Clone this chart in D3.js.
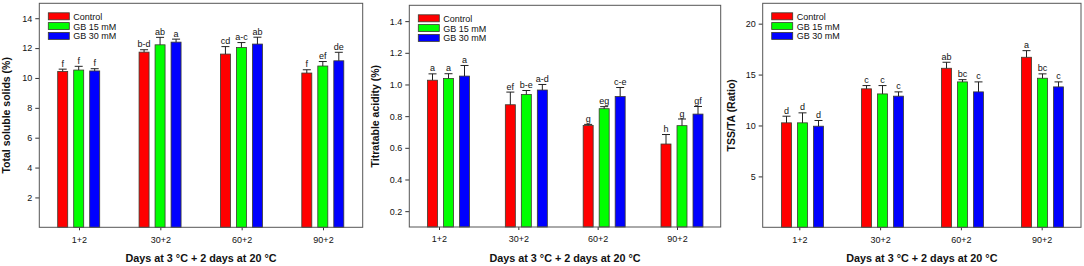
<!DOCTYPE html>
<html lang="en">
<head>
    <meta charset="UTF-8">
    <title>Fruit quality bars</title>
    <style>
        body { margin: 0; background: #fff; }
        svg { display: block; font-family: "Liberation Sans", Arial, sans-serif; }
    </style>
</head>
<body>
<script src="https://d3js.org/d3.v7.min.js"></script>
<script>
    var days = ["1+2", "30+2", "60+2", "90+2"];
    var treatments = ["Control", "GB 15 mM", "GB 30 mM"];
    var colors = ["#ff0000", "#00ff00", "#0000ff"];

    // total soluble solids (%), one array per treatment, plus the error bars
    var tssControl = [10.44, 11.73, 11.6, 10.33];
    var tssGB15 = [10.53, 12.22, 12.04, 10.8];
    var tssGB30 = [10.47, 12.4, 12.27, 11.15];
    var tssErrControl = [0.15, 0.16, 0.5, 0.22];
    var tssErrGB15 = [0.25, 0.5, 0.33, 0.3];
    var tssErrGB30 = [0.15, 0.2, 0.46, 0.57];
    var tssLetters = [["f", "b-d", "cd", "f"], ["f", "ab", "a-c", "ef"], ["f", "a", "ab", "de"]];
    var tssTicks = [2, 4, 6, 8, 10, 12, 14];

    // titratable acidity (%)
    var taControl = [1.027, 0.872, 0.741, 0.624];
    var taGB15 = [1.038, 0.937, 0.847, 0.74];
    var taGB30 = [1.053, 0.965, 0.924, 0.813];
    var taErrControl = [0.04, 0.08, 0.007, 0.06];
    var taErrGB15 = [0.03, 0.025, 0.013, 0.042];
    var taErrGB30 = [0.067, 0.035, 0.057, 0.048];
    var taLetters = [["a", "ef", "g", "h"], ["a", "b-e", "eg", "g"], ["a", "a-d", "c-e", "gf"]];
    var taTicks = [0.2, 0.4, 0.6, 0.8, 1.0, 1.2, 1.4];

    // TSS/TA ratio
    var ratioControl = [10.26, 13.6, 15.62, 16.7];
    var ratioGB15 = [10.26, 13.1, 14.28, 14.64];
    var ratioGB30 = [9.93, 12.88, 13.3, 13.79];
    var ratioErrControl = [0.65, 0.32, 0.59, 0.65];
    var ratioErrGB15 = [0.98, 0.82, 0.22, 0.43];
    var ratioErrGB30 = [0.56, 0.42, 0.98, 0.49];
    var ratioLetters = [["d", "c", "ab", "a"], ["d", "c", "bc", "bc"], ["d", "c", "c", "c"]];
    var ratioTicks = [5, 10, 15, 20];

    var xTitle = "Days at 3 \u00b0C + 2 days at 20 \u00b0C";

    var width = 1084, height = 266;

    var panels = [
        {
            values: [tssControl, tssGB15, tssGB30],
            errors: [tssErrControl, tssErrGB15, tssErrGB30],
            letters: tssLetters, ticks: tssTicks, fmt: d3.format("d"),
            domain: [0, 15], title: "Total soluble solids (%)", titleX: 6,
            left: 39.3, right: 362.7, top: 3.3, bottom: 227.3,
            bars: [78.7, 322.8], labels: [79, 323]
        },
        {
            values: [taControl, taGB15, taGB30],
            errors: [taErrControl, taErrGB15, taErrGB30],
            letters: taLetters, ticks: taTicks, fmt: d3.format(".1f"),
            domain: [0.1, 1.5], title: "Titratable acidity (%)", titleX: 375,
            left: 409.3, right: 720.7, top: 5.3, bottom: 227,
            bars: [448.5, 682], labels: [439, 677]
        },
        {
            values: [ratioControl, ratioGB15, ratioGB30],
            errors: [ratioErrControl, ratioErrGB15, ratioErrGB30],
            letters: ratioLetters, ticks: ratioTicks, fmt: d3.format("d"),
            domain: [0, 22], title: "TSS/TA (Ratio)", titleX: 731.5,
            left: 762.7, right: 1081, top: 3.3, bottom: 227.3,
            bars: [802.5, 1042.5], labels: [799.3, 1041.7]
        }
    ];

    var svg = d3.select("body")
        .append("svg")
        .attr("width", width)
        .attr("height", height);

    var barW = 10, barStep = 16;

    panels.forEach(function (p) {
        var g = svg.append("g");
        var y = d3.scaleLinear().domain(p.domain).range([p.bottom, p.top]);
        var xBar = d3.scalePoint().domain(days).range(p.bars);
        var xLab = d3.scalePoint().domain(days).range(p.labels);
        var inner = d3.scaleLinear().domain([0, 2]).range([-barStep, barStep]);

        // y axis, ticks pointing out of the frame
        var yAxis = g.append("g")
            .attr("transform", "translate(" + p.left + ",0)")
            .call(d3.axisLeft(y).tickValues(p.ticks).tickFormat(p.fmt).tickSize(4).tickPadding(3));
        yAxis.select(".domain").remove();
        yAxis.selectAll("line").attr("stroke", "#333");
        yAxis.selectAll("text").attr("font-size", 9).attr("fill", "#111")
            .attr("font-family", "Liberation Sans, Arial, sans-serif");

        var xAxis = g.append("g")
            .attr("transform", "translate(0," + p.bottom + ")")
            .call(d3.axisBottom(xLab).tickSize(3).tickPadding(6));
        xAxis.select(".domain").remove();
        xAxis.selectAll("line").attr("stroke", "#333");
        xAxis.selectAll("text").attr("font-size", 9).attr("fill", "#111")
            .attr("font-family", "Liberation Sans, Arial, sans-serif");

        // bars, error bars and letters
        p.values.forEach(function (series, s) {
            var sg = g.append("g");
            sg.selectAll("rect")
                .data(series)
                .enter()
                .append("rect")
                .attr("x", function (d, i) { return xBar(days[i]) + inner(s) - barW / 2; })
                .attr("y", function (d) { return y(d); })
                .attr("width", barW)
                .attr("height", function (d) { return p.bottom - y(d); })
                .attr("fill", colors[s])
                .attr("stroke", "#3b3b2f")
                .attr("stroke-width", 0.8);

            var errs = p.errors[s];
            sg.selectAll("path.err")
                .data(series)
                .enter()
                .append("path")
                .attr("class", "err")
                .attr("fill", "none")
                .attr("stroke", "#222")
                .attr("stroke-width", 1)
                .attr("d", function (d, i) {
                    var cx = xBar(days[i]) + inner(s);
                    var y0 = y(d), y1 = y(d + errs[i]);
                    return "M" + cx + "," + y0 + "V" + y1 + "M" + (cx - 4) + "," + y1 + "H" + (cx + 4);
                });

            sg.selectAll("text")
                .data(series)
                .enter()
                .append("text")
                .attr("x", function (d, i) { return xBar(days[i]) + inner(s); })
                .attr("y", function (d, i) { return y(d + errs[i]) - 2.5; })
                .attr("text-anchor", "middle")
                .attr("font-size", 9)
                .attr("fill", "#111")
                .text(function (d, i) { return p.letters[s][i]; });
        });

        // frame
        g.append("rect")
            .attr("x", p.left)
            .attr("y", p.top)
            .attr("width", p.right - p.left)
            .attr("height", p.bottom - p.top)
            .attr("fill", "none")
            .attr("stroke", "#555")
            .attr("stroke-width", 1);

        // legend
        var lg = g.append("g")
            .attr("transform", "translate(" + (p.left + 9) + "," + (p.top + 9.5) + ")");
        treatments.forEach(function (t, i) {
            lg.append("rect")
                .attr("x", 0)
                .attr("y", i * 9.8)
                .attr("width", 21)
                .attr("height", 7)
                .attr("fill", colors[i])
                .attr("stroke", "#3b3b2f")
                .attr("stroke-width", 0.8);
            lg.append("text")
                .attr("x", 25)
                .attr("y", i * 9.8 + 7)
                .attr("font-size", 9)
                .attr("fill", "#111")
                .text(t);
        });

        // axis titles
        g.append("text")
            .attr("transform", "translate(" + p.titleX + "," + ((p.top + p.bottom) / 2) + ") rotate(-90)")
            .attr("dy", "0.35em")
            .attr("text-anchor", "middle")
            .attr("font-size", 10.5)
            .attr("font-weight", "bold")
            .attr("fill", "#111")
            .text(p.title);

        g.append("text")
            .attr("x", (p.left + p.right) / 2)
            .attr("y", 262)
            .attr("text-anchor", "middle")
            .attr("font-size", 10.8)
            .attr("font-weight", "bold")
            .attr("fill", "#111")
            .text(xTitle);
    });
</script>
</body>
</html>
